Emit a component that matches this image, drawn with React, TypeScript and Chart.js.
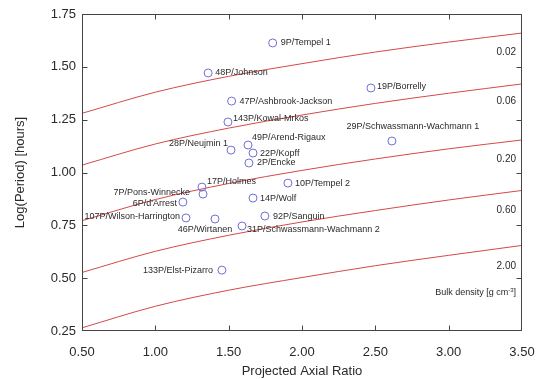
import React, { useEffect, useRef } from "react";
import { Chart, registerables } from "chart.js";

Chart.register(...registerables);

// ---------- data ----------
const axialRatioGrid = [0.5, 1.0, 1.5, 2.0, 2.5, 3.0, 3.5];
const curveDensity002 = [1.28, 1.38, 1.455, 1.515, 1.57, 1.617, 1.66];
const curveDensity006 = [1.035, 1.135, 1.21, 1.272, 1.327, 1.375, 1.419];
const curveDensity020 = [0.772, 0.872, 0.948, 1.01, 1.064, 1.112, 1.154];
const curveDensity060 = [0.527, 0.627, 0.703, 0.766, 0.82, 0.87, 0.915];
const curveDensity200 = [0.265, 0.367, 0.443, 0.503, 0.559, 0.608, 0.655];

const densityLabels = ["0.02", "0.06", "0.20", "0.60", "2.00"];
const densityLabelLogP = [1.57, 1.338, 1.064, 0.822, 0.557];

const cometNames = [
  "9P/Tempel 1",
  "48P/Johnson",
  "47P/Ashbrook-Jackson",
  "143P/Kowal-Mrkos",
  "28P/Neujmin 1",
  "49P/Arend-Rigaux",
  "22P/Kopff",
  "2P/Encke",
  "17P/Holmes",
  "7P/Pons-Winnecke",
  "6P/d'Arrest",
  "107P/Wilson-Harrington",
  "46P/Wirtanen",
  "31P/Schwassmann-Wachmann 2",
  "14P/Wolf",
  "92P/Sanguin",
  "10P/Tempel 2",
  "133P/Elst-Pizarro",
  "19P/Borrelly",
  "29P/Schwassmann-Wachmann 1",
];
const cometAxialRatio = [
  1.80, 1.36, 1.52, 1.495, 1.516, 1.632, 1.666, 1.638, 1.318, 1.325,
  1.188, 1.209, 1.407, 1.591, 1.666, 1.747, 1.904, 1.454, 2.47, 2.613,
];
const cometLogPeriod = [
  1.613, 1.471, 1.338, 1.239, 1.106, 1.13, 1.092, 1.045, 0.931, 0.898,
  0.86, 0.785, 0.78, 0.747, 0.879, 0.794, 0.95, 0.538, 1.40, 1.149,
];

const xTickValues = [0.5, 1.0, 1.5, 2.0, 2.5, 3.0, 3.5];
const yTickValues = [0.25, 0.5, 0.75, 1.0, 1.25, 1.5, 1.75];

// ---------- label layout (styling, not data) ----------
type LabelLayout = { dx: number; dy: number; align: CanvasTextAlign };
const cometLabelLayout: LabelLayout[] = [
  { dx: 8, dy: 0, align: "left" },
  { dx: 7, dy: 0, align: "left" },
  { dx: 8, dy: 0, align: "left" },
  { dx: 5, dy: -3, align: "left" },
  { dx: -3, dy: -7, align: "right" },
  { dx: 4, dy: -8, align: "left" },
  { dx: 7, dy: 0, align: "left" },
  { dx: 8, dy: 0, align: "left" },
  { dx: 5, dy: -6, align: "left" },
  { dx: -13, dy: -2, align: "right" },
  { dx: -6, dy: 1, align: "right" },
  { dx: -6, dy: -1, align: "right" },
  { dx: -10, dy: 11, align: "center" },
  { dx: 5, dy: 4, align: "left" },
  { dx: 7, dy: 0, align: "left" },
  { dx: 8, dy: 0, align: "left" },
  { dx: 7, dy: 0, align: "left" },
  { dx: -9, dy: 0, align: "right" },
  { dx: 6, dy: -1, align: "left" },
  { dx: 21, dy: -14, align: "center" },
];

const FONT = '"Liberation Sans", Arial, Helvetica, sans-serif';
const TEXT = "#2a2a2a";
const RED = "rgb(214, 72, 72)";
const BLUE = "rgb(110, 110, 215)";

const overlayPlugin = {
  id: "overlay",
  afterDatasetsDraw(chart: any) {
    const { ctx, chartArea: a, scales } = chart;
    const xs = scales.x;
    const ys = scales.y;
    ctx.save();
    // frame
    ctx.strokeStyle = "#444";
    ctx.lineWidth = 1;
    const L = Math.round(a.left) + 0.5;
    const R = Math.round(a.right) - 0.5;
    const T = Math.round(a.top) + 0.5;
    const B = Math.round(a.bottom) - 0.5;
    ctx.strokeRect(L, T, R - L, B - T);
    // inward ticks
    const tl = 5;
    ctx.beginPath();
    xTickValues.forEach((v) => {
      const px = Math.round(xs.getPixelForValue(v)) + 0.5;
      if (px <= L + 1 || px >= R - 1) return;
      ctx.moveTo(px, B);
      ctx.lineTo(px, B - tl);
      ctx.moveTo(px, T);
      ctx.lineTo(px, T + tl);
    });
    yTickValues.forEach((v) => {
      const py = Math.round(ys.getPixelForValue(v)) + 0.5;
      if (py <= T + 1 || py >= B - 1) return;
      ctx.moveTo(L, py);
      ctx.lineTo(L + tl, py);
      ctx.moveTo(R, py);
      ctx.lineTo(R - tl, py);
    });
    ctx.stroke();

    // comet labels
    ctx.fillStyle = TEXT;
    ctx.font = `9px ${FONT}`;
    ctx.textBaseline = "middle";
    cometNames.forEach((name, i) => {
      const px = xs.getPixelForValue(cometAxialRatio[i]);
      const py = ys.getPixelForValue(cometLogPeriod[i]);
      const lay = cometLabelLayout[i];
      ctx.textAlign = lay.align;
      ctx.fillText(name, px + lay.dx, py + lay.dy);
    });

    // density labels
    ctx.font = `10px ${FONT}`;
    ctx.textAlign = "right";
    densityLabels.forEach((lbl, i) => {
      ctx.fillText(lbl, a.right - 6, ys.getPixelForValue(densityLabelLogP[i]));
    });

    // bulk density caption with superscript
    const cy = ys.getPixelForValue(0.43);
    let xr = a.right - 6;
    ctx.font = `9px ${FONT}`;
    ctx.fillText("]", xr, cy);
    xr -= ctx.measureText("]").width;
    ctx.font = `6px ${FONT}`;
    ctx.fillText("-3", xr, cy - 3);
    xr -= ctx.measureText("-3").width;
    ctx.font = `9px ${FONT}`;
    ctx.fillText("Bulk density [g cm", xr, cy);
    ctx.restore();
  },
};

function curve(values: number[]) {
  return {
    type: "scatter" as const,
    data: axialRatioGrid.map((x, i) => ({ x, y: values[i] })),
    showLine: true,
    borderColor: RED,
    borderWidth: 1,
    pointRadius: 0,
    cubicInterpolationMode: "monotone" as const,
    fill: false,
  };
}

export default function App() {
  const ref = useRef<HTMLCanvasElement | null>(null);
  useEffect(() => {
    if (!ref.current) return;
    Chart.defaults.font.family = FONT;
    const chart = new Chart(ref.current, {
      type: "scatter",
      data: {
        datasets: [
          {
            data: cometAxialRatio.map((x, i) => ({ x, y: cometLogPeriod[i] })),
            pointRadius: 4,
            pointHoverRadius: 4,
            pointBorderWidth: 1,
            borderColor: BLUE,
            backgroundColor: "rgba(0,0,0,0)",
            pointStyle: "circle",
          },
          curve(curveDensity002),
          curve(curveDensity006),
          curve(curveDensity020),
          curve(curveDensity060),
          curve(curveDensity200),
        ] as any,
      },
      options: {
        animation: false,
        responsive: false,
        maintainAspectRatio: false,
        devicePixelRatio: 1,
        layout: { padding: { top: 14, right: 18, left: 0, bottom: 0 } },
        plugins: { legend: { display: false }, tooltip: { enabled: false } },
        scales: {
          x: {
            type: "linear",
            min: 0.5,
            max: 3.5,
            grid: { display: false, drawTicks: false },
            border: { display: false },
            ticks: {
              stepSize: 0.5,
              padding: 14,
              color: TEXT,
              font: { size: 13, family: FONT },
              callback: (v: any) => Number(v).toFixed(2),
            },
            title: {
              display: true,
              text: "Projected Axial Ratio",
              color: TEXT,
              font: { size: 13, family: FONT },
              padding: { top: 0, bottom: 0 },
            },
            afterFit: (s: any) => {
              s.height = 48;
              s.paddingLeft = 0;
              s.paddingRight = 0;
            },
          },
          y: {
            type: "linear",
            min: 0.25,
            max: 1.75,
            grid: { display: false, drawTicks: false },
            border: { display: false },
            ticks: {
              stepSize: 0.25,
              padding: 6,
              color: TEXT,
              font: { size: 13, family: FONT },
              callback: (v: any) => Number(v).toFixed(2),
            },
            title: {
              display: true,
              text: "Log(Period) [hours]",
              color: TEXT,
              font: { size: 13, family: FONT },
              padding: { top: 13, bottom: 0 },
            },
            afterFit: (s: any) => {
              s.width = 82;
              s.paddingTop = 0;
              s.paddingBottom = 0;
            },
          },
        },
      } as any,
      plugins: [overlayPlugin],
    });
    return () => chart.destroy();
  }, []);
  return (
    <div style={{ position: "fixed", left: 0, top: 0, width: 540, height: 379, background: "#fff" }}>
      <canvas ref={ref} width={540} height={379} style={{ width: 540, height: 379 }} />
    </div>
  );
}
